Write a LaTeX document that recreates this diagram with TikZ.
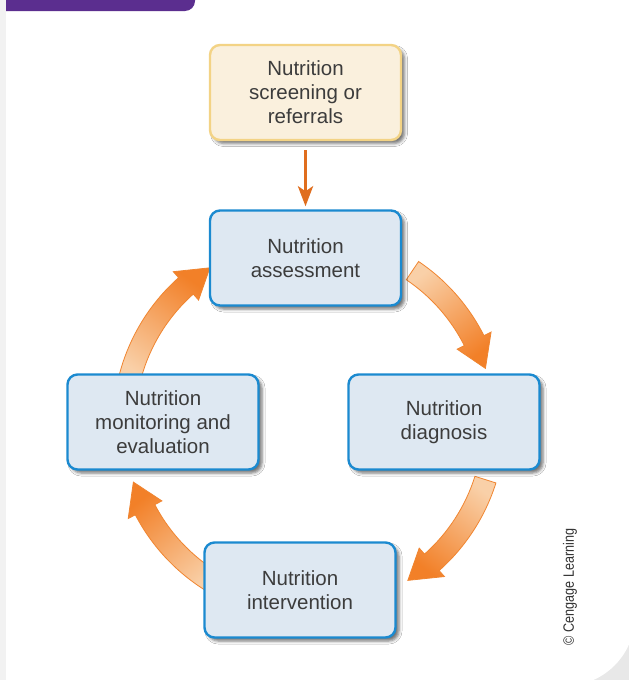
\documentclass[tikz,border=0pt]{standalone}
\usepackage{fontspec}
\setmainfont{Liberation Sans}
\usetikzlibrary{arrows.meta,shadows.blur}
\definecolor{txt}{HTML}{3C3C3C}
\definecolor{bfill}{HTML}{DEE8F2}
\definecolor{bline}{HTML}{1B8AD0}
\definecolor{yfill}{HTML}{FAF0DD}
\definecolor{yline}{HTML}{F3D385}
\definecolor{darkor}{HTML}{E06E1E}
\definecolor{orline}{HTML}{F08530}
\definecolor{orlight}{HTML}{F9D0A8}
\definecolor{ordark}{HTML}{F28028}
\definecolor{purp}{HTML}{5B2E8F}
\tikzset{
  boxbase/.style={rectangle, rounded corners=10pt, line width=2.4pt,
    minimum width=191pt, minimum height=95pt, inner sep=0pt, align=center,
    text=txt, font=\fontsize{20.5}{24}\selectfont,
    blur shadow={shadow xshift=3.5pt, shadow yshift=-3.5pt, shadow blur radius=3pt, shadow opacity=55}},
  bluebox/.style={boxbase, draw=bline, fill=bfill},
  yellowbox/.style={boxbase, draw=yline, fill=yfill},
  cycarrow/.style={draw=orline, line width=0.8pt, top color=orlight, bottom color=ordark},
  feed/.style={draw=darkor, line width=3.5pt, -{Stealth[width=15pt,length=20pt,inset=5pt]}}
}
% #1 tail angle, #2 tip angle, #3 shading angle
\newcommand\cycarr[3]{%
  \shadedraw[cycarrow, shading angle=#3]
    (#1:196) arc[start angle=#1, end angle=#2+9.3, radius=196]
    -- (#2+9.3:204) -- (#2:185) -- (#2+9.3:166) -- (#2+9.3:174)
    arc[start angle=#2+9.3, end angle=#1, radius=174] -- cycle;}
\begin{document}
\begin{tikzpicture}[x=1pt,y=1pt]
\useasboundingbox (0,0) rectangle (629,-680);
% background
\fill[black!9] (0,0) rectangle (629,-680);
\fill[black!5] (0,0) rectangle (6,-680);
\fill[white] (6,5) -- (6,-686) -- (565,-686) arc[start angle=-90, end angle=0, radius=70] -- (636,5) -- cycle;
\fill[purp] (6,5) -- (6,-11) -- (185,-11) arc[start angle=-90, end angle=0, radius=10] -- (195,5) -- cycle;
% cycle arrows
\coordinate (C) at (309,-424);
\begin{scope}[shift={(C)}]
  \cycarr{56}{17.5}{36.8}
  \cycarr{-17.5}{-57.7}{-37.6}
  \cycarr{-120}{-161.7}{-141}
  \cycarr{167}{122.4}{144.7}
\end{scope}
% boxes
\node[yellowbox] (screen) at (305.5,-92.5) {Nutrition\\screening or\\referrals};
\node[bluebox] (assess) at (305.5,-258) {Nutrition\\assessment};
\node[bluebox] (diag) at (444,-422) {Nutrition\\diagnosis};
\node[bluebox] (interv) at (300,-590) {Nutrition\\intervention};
\node[bluebox] (monit) at (163,-422) {Nutrition\\monitoring and\\evaluation};
\draw[feed, shorten <=9pt, shorten >=3pt] (screen.south) -- (assess.north);
% credit
\node[rotate=90, text=black!80, font=\fontsize{15}{17}\selectfont] (credit) at (570,-587) {\scalebox{0.84}[1]{© Cengage Learning}};
\end{tikzpicture}
\end{document}
